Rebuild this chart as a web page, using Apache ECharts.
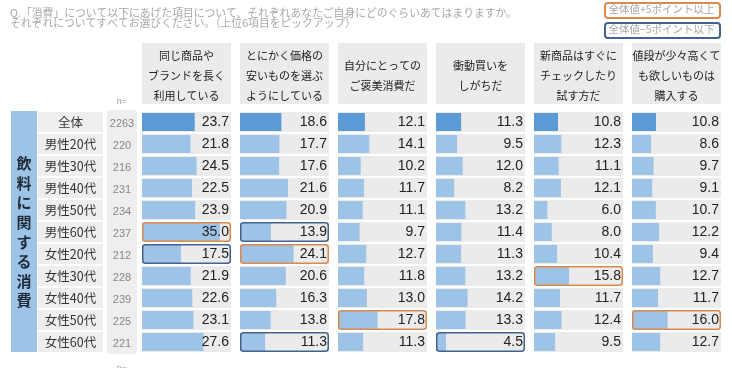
<!DOCTYPE html>
<html><head><meta charset="utf-8">
<script src="https://cdn.jsdelivr.net/npm/echarts@6/dist/echarts.min.js"></script>
<style>html,body{margin:0;padding:0;background:#fff}#c{width:732px;height:368px}</style>
</head><body><div id="c"></div>
<script>
const rows = ['全体','男性20代','男性30代','男性40代','男性50代','男性60代','女性20代','女性30代','女性40代','女性50代','女性60代'];
const nValues = [2263,220,216,231,234,237,212,228,239,225,221];
const headers = [
  ['同じ商品や','ブランドを長く','利用している'],
  ['とにかく価格の','安いものを選ぶ','ようにしている'],
  ['自分にとっての','ご褒美消費だ'],
  ['衝動買いを','しがちだ'],
  ['新商品はすぐに','チェックしたり','試す方だ'],
  ['値段が少々高くて','も欲しいものは','購入する']
];
const v1 = [23.7,21.8,24.5,22.5,23.9,35.0,17.5,21.9,22.6,23.1,27.6];
const v2 = [18.6,17.7,17.6,21.6,20.9,13.9,24.1,20.6,16.3,13.8,11.3];
const v3 = [12.1,14.1,10.2,11.7,11.1,9.7,12.7,11.8,13.0,17.8,11.3];
const v4 = [11.3,9.5,12.0,8.2,13.2,11.4,11.3,13.2,14.2,13.3,4.5];
const v5 = [10.8,12.3,11.1,12.1,6.0,8.0,10.4,15.8,11.7,12.4,9.5];
const v6 = [10.8,8.6,9.7,9.1,10.7,12.2,9.4,12.7,11.7,16.0,12.7];
// highlight flags: 1 = 全体値+5ポイント以上, -1 = 全体値−5ポイント以下
const h1 = [0,0,0,0,0,1,-1,0,0,0,0];
const h2 = [0,0,0,0,0,-1,1,0,0,0,-1];
const h3 = [0,0,0,0,0,0,0,0,0,1,0];
const h4 = [0,0,0,0,0,0,0,0,0,0,-1];
const h5 = [0,0,0,0,0,0,0,1,0,0,0];
const h6 = [0,0,0,0,0,0,0,0,0,1,0];
const title1 = 'Q.「消費」について以下にあげた項目について、それぞれあなたご自身にどのぐらいあてはまりますか。';
const title2 = 'それぞれについてすべてお選びください。（上位6項目をピックアップ）';
const legendUp = '全体値+5ポイント以上';
const legendDown = '全体値−5ポイント以下';
const bandLabel = '飲料に関する消費';

const values = [v1,v2,v3,v4,v5,v6];
const highs = [h1,h2,h3,h4,h5,h6];
const AXMAX = 40;
const L0 = 142, PW = 89, PITCH = 98, TOP = 111, GH = 242;
const CJK = '"Noto Sans CJK JP","Noto Sans",sans-serif';
const NUM = '"Liberation Sans",Arial,sans-serif';
const ORANGE = '#dc8a4c', BLUE = '#44618f';

const grid=[], xAxis=[], yAxis=[], series=[], graphic=[];
values.forEach((vals,i)=>{
  grid.push({left:L0+i*PITCH, top:TOP, width:PW, height:GH});
  xAxis.push({gridIndex:i, type:'value', min:0, max:AXMAX, show:false});
  const ya = {gridIndex:i, type:'category', inverse:true, data:rows, axisLine:{show:false}, axisTick:{show:false}, splitLine:{show:false}, axisLabel:{show:false}};
  if(i===0){
    ya.axisLabel = {show:true, margin:5, interval:0, showMinLabel:true, showMaxLabel:true, hideOverlap:false,
      formatter:(v,idx)=>'{a|'+v+'}{s|}{b|'+nValues[idx]+'}',
      rich:{
        a:{width:65,height:20,lineHeight:20,align:'center',backgroundColor:'#eeeeee',color:'#333',fontSize:12.5,fontFamily:CJK},
        s:{width:4,height:20},
        b:{width:30,height:20,lineHeight:20,align:'center',backgroundColor:'#eeeeee',color:'#888',fontSize:11,fontFamily:NUM,padding:[3,0,0,0]}
      }};
  }
  yAxis.push(ya);
  yAxis.push({gridIndex:i, type:'category', inverse:true, data:rows, show:false});
  const bgIdx = 2*i, barIdx = 2*i+1;
  series.push({type:'bar', xAxisIndex:i, yAxisIndex:bgIdx, barWidth:20, barGap:'-100%', z:1, silent:true,
    data:vals.map(()=>AXMAX), itemStyle:{color:'#ebebeb'}});
  series.push({type:'bar', xAxisIndex:i, yAxisIndex:barIdx, barWidth:18, z:2, silent:true,
    data:vals.map((v,k)=>({value:v, itemStyle:{color:k===0?'#5b9bd5':'#9dc3e6'}}))});
  series.push({type:'bar', xAxisIndex:i, yAxisIndex:bgIdx, barWidth:20, barGap:'-100%', z:3, silent:true,
    data:vals.map((v,k)=>{
      const h = highs[i][k];
      return {value:AXMAX, itemStyle:{color:'rgba(0,0,0,0)', borderColor:h>0?ORANGE:(h<0?BLUE:'rgba(0,0,0,0)'), borderWidth:h?1.5:0, borderRadius:3}};
    }),
    label:{show:true, position:'insideRight', distance:2, color:'#222', fontSize:14, fontFamily:NUM,
      formatter:p=>vals[p.dataIndex].toFixed(1)}});
  const hx = L0+i*PITCH;
  graphic.push({type:'rect', left:hx, top:43, shape:{width:PW,height:61}, style:{fill:'#ebebeb'}, silent:true});
  graphic.push({type:'text', x:hx+PW/2, y:76, style:{text:headers[i].join('\n'), fill:'#222', font:'11px '+CJK, lineHeight:20, align:'center', verticalAlign:'middle'}, silent:true});
});

graphic.push({type:'text', x:10, y:13, style:{text:title1, fill:'#a8a8a8', font:'10.8px '+CJK, verticalAlign:'middle'}});
graphic.push({type:'text', x:10, y:23, style:{text:title2, fill:'#a8a8a8', font:'10.8px '+CJK, verticalAlign:'middle'}});
graphic.push({type:'rect', left:604, top:2, shape:{width:115,height:15,r:3}, style:{fill:'#fff', stroke:ORANGE, lineWidth:2}});
graphic.push({type:'text', x:661.5, y:9.5, style:{text:legendUp, fill:'#a8a8a8', font:'10.5px '+CJK, align:'center', verticalAlign:'middle'}});
graphic.push({type:'rect', left:604, top:22, shape:{width:115,height:15,r:3}, style:{fill:'#fff', stroke:BLUE, lineWidth:2}});
graphic.push({type:'text', x:661.5, y:29.5, style:{text:legendDown, fill:'#a8a8a8', font:'10.5px '+CJK, align:'center', verticalAlign:'middle'}});
graphic.push({type:'rect', left:11, top:TOP, shape:{width:26,height:241}, style:{fill:'#9dc3e6'}});
graphic.push({type:'text', x:24, y:232, style:{text:bandLabel.split('').join('\n'), fill:'#1e2a38', font:'bold 15px '+CJK, lineHeight:19.6, align:'center', verticalAlign:'middle'}});
graphic.push({type:'text', x:122, y:102, style:{text:'n=', fill:'#999', font:'9px '+NUM, align:'center', verticalAlign:'middle'}});
graphic.push({type:'text', x:122, y:369, style:{text:'n=', fill:'#999', font:'9px '+NUM, align:'center', verticalAlign:'middle'}});

const chart = echarts.init(document.getElementById('c'), null, {renderer:'canvas'});
chart.setOption({animation:false, grid, xAxis, yAxis, series, graphic});
</script></body></html>
